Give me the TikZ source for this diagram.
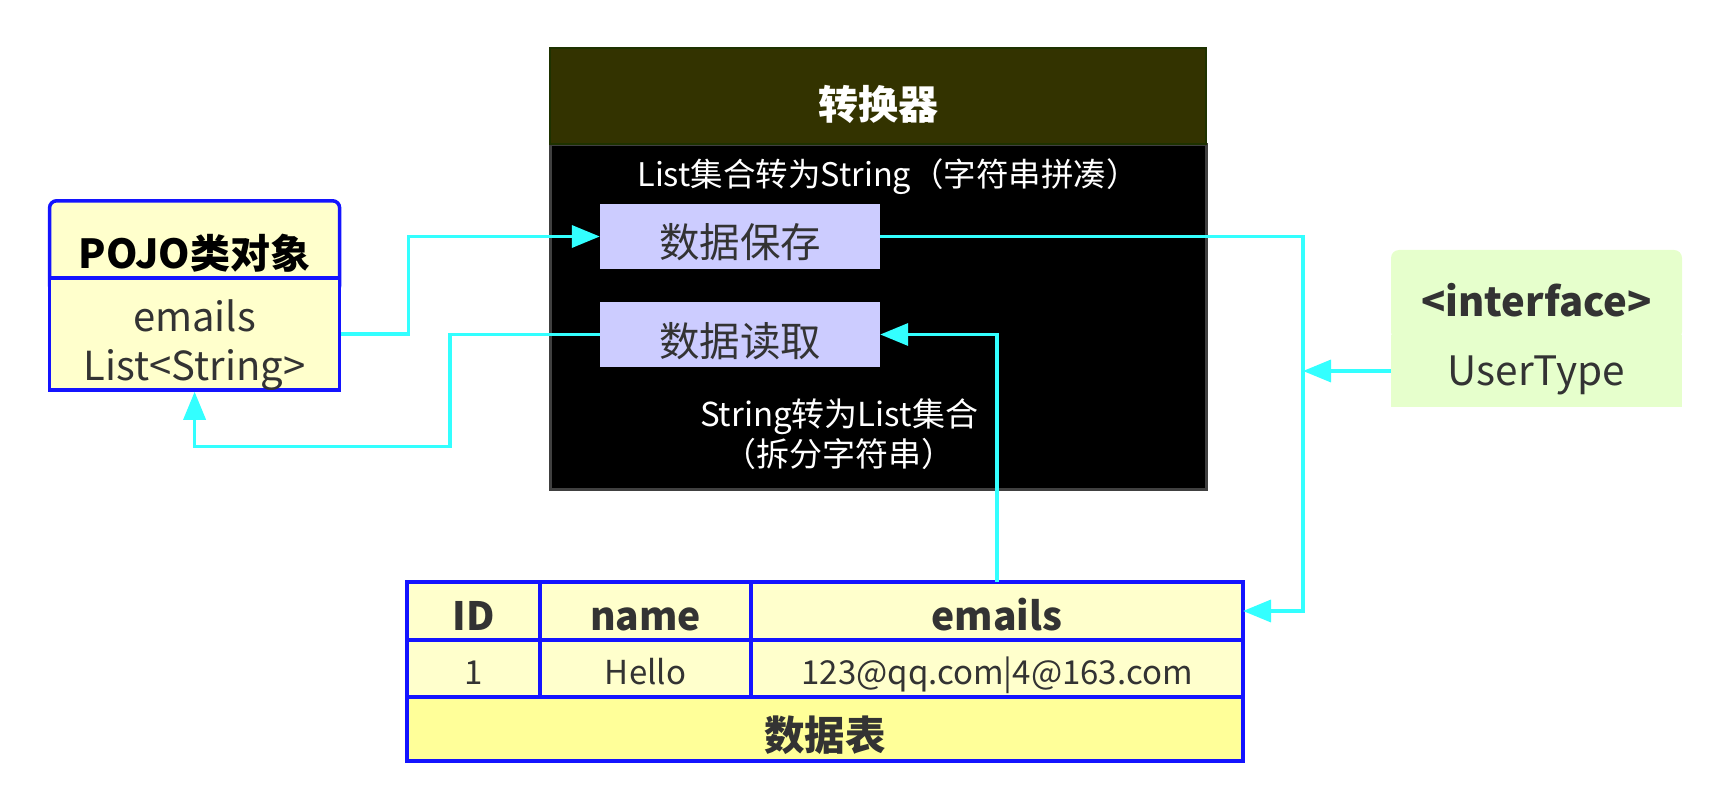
\documentclass[tikz,border=0pt]{standalone}
\usepackage{fontspec}
\setmainfont{Noto Sans CJK SC}
\usepackage{tikz}
\usetikzlibrary{arrows.meta, positioning, calc}
\definecolor{pojoyellow}{RGB}{255,255,204}
\definecolor{tableyellow}{RGB}{255,255,153}
\definecolor{umlblue}{RGB}{20,20,255}
\definecolor{olivehead}{RGB}{51,51,0}
\definecolor{oliveline}{RGB}{30,50,0}
\definecolor{boxgray}{RGB}{64,64,64}
\definecolor{lilac}{RGB}{204,204,255}
\definecolor{mintgreen}{RGB}{230,255,204}
\definecolor{flowcyan}{RGB}{51,255,255}
\definecolor{textgray}{RGB}{51,51,51}

\begin{document}
\begin{tikzpicture}[
    x=1pt, y=-1pt,
    cell/.style={rectangle, draw=umlblue, line width=3.5pt, fill=pojoyellow,
                 inner sep=0pt, outer sep=0pt, text=textgray, text depth=0pt},
    headcell/.style={cell, minimum height=58pt, text height=38pt,
                     font=\fontsize{39}{44}\selectfont\bfseries},
    rowcell/.style={cell, minimum height=57pt, text height=32pt,
                    font=\fontsize{33}{38}\selectfont},
    pojohead/.style={rectangle, rounded corners=7pt, draw=umlblue, line width=3.5pt,
                     fill=pojoyellow, minimum width=290pt, minimum height=92pt,
                     inner sep=0pt, text=black, text height=44pt, text depth=0pt,
                     font=\fontsize{40}{44}\selectfont\bfseries},
    pojobody/.style={rectangle, draw=umlblue, line width=3.5pt, fill=pojoyellow,
                     minimum width=290pt, minimum height=106pt, inner sep=0pt,
                     align=center, text=textgray, text height=102pt, text depth=10pt,
                     font=\fontsize{40}{48.5}\selectfont},
    uthead/.style={rectangle, rounded corners=8pt, fill=mintgreen, minimum width=291pt,
                   minimum height=90pt, inner sep=0pt, text=textgray,
                   text height=42.4pt, text depth=0pt,
                   font=\fontsize{40}{44}\selectfont\bfseries},
    utbody/.style={rectangle, fill=mintgreen, minimum width=291pt, minimum height=72pt,
                   inner sep=0pt, text=textgray, text height=29pt, text depth=0pt,
                   font=\fontsize{40.5}{44}\selectfont},
    convhead/.style={rectangle, draw=oliveline, line width=2pt, fill=olivehead,
                     minimum width=656pt, minimum height=96pt, inner sep=0pt,
                     text=white, text height=47pt, text depth=0pt,
                     font=\fontsize{40}{44}\selectfont\bfseries},
    convbody/.style={rectangle, draw=boxgray, line width=3pt, fill=black,
                     minimum width=656pt, minimum height=345pt, inner sep=0pt},
    action/.style={rectangle, fill=lilac, minimum width=280pt, minimum height=65pt,
                   inner sep=0pt, text=textgray, text height=43pt, text depth=0pt,
                   font=\fontsize{40.5}{44}\selectfont},
    note/.style={text=white, inner sep=0pt, align=center,
                 font=\fontsize{33}{40}\selectfont},
    flow/.style={line width=3.5pt, flowcyan, -{Triangle[length=28pt, width=22pt]}}
]
\useasboundingbox (0,0) rectangle (1729,810);

% POJO
\node[pojohead] (pojoT) at (194.6,246.8) {POJO类对象};
\node[pojobody] (pojoB) at (194.6,334) {emails\\List<String>};

% convertitore
\node[convbody] (convB) at (878,317) {};
\node[convhead] (convT) at (878,96.5) {转换器};
\node[note, font=\fontsize{32.5}{40}\selectfont] (toStr) at (888,176.5)
    {List集合转为String（字符串拼凑）};
\node[action] (save) at (740,236.5) {数据保存};
\node[action] (read) at (740,334.5) {数据读取};
\node[note] (toList) at (839,434) {String转为List集合\\（拆分字符串）};

% interface
\node[uthead] (utT) at (1536.5,295) {<interface>};
\node[utbody] (utB) at (1536.5,371) {UserType};

% tabella
\node[headcell, minimum width=133pt] (hID) at (473.5,611) {ID};
\node[headcell, minimum width=211pt, right=0pt of hID] (hName) {name};
\node[headcell, minimum width=492pt, right=0pt of hName] (hEmail) {emails};
\node[rowcell, minimum width=133pt, below=0pt of hID] (cID) {1};
\node[rowcell, minimum width=211pt, below=0pt of hName] (cName) {Hello};
\node[rowcell, minimum width=492pt, below=0pt of hEmail] (cEmail) {123@qq.com|4@163.com};
\node[cell, fill=tableyellow, minimum width=836pt, minimum height=64pt, text height=43.4pt,
      font=\fontsize{40.5}{44}\selectfont\bfseries,
      below=0pt of cID.south west, anchor=north west] (footer) {数据表};

% frecce
\coordinate (bus) at ($(hEmail.east)+(60,0)$);
\draw[flow] (pojoB.east) -- ++(67,0) |- (save.west);
\draw[flow] (read.west) -| ++(-150,112) -| (pojoB.south);
\draw[flow] (save.east) -| (bus) -- (hEmail.east);
\draw[flow] (utB.west) -- (utB.west -| bus);
\draw[flow] (hEmail.north) |- (read.east);
\end{tikzpicture}
\end{document}
